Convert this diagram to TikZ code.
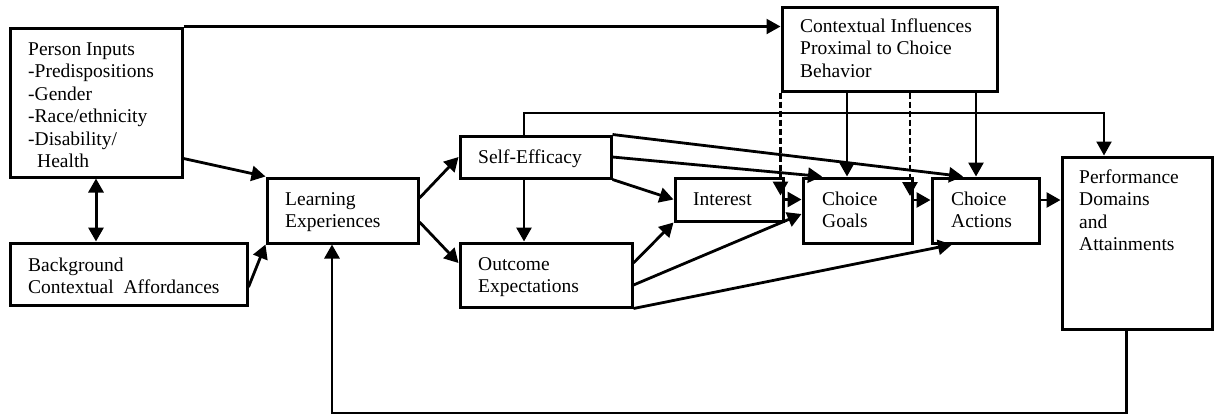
\documentclass[tikz,border=0pt]{standalone}
\usepackage{fontspec}
\setmainfont{Liberation Serif}
\usetikzlibrary{arrows.meta,fit,calc}
\begin{document}
\begin{tikzpicture}[x=1pt,y=-1pt,
  box/.style={draw,line width=3pt,inner sep=0pt,rectangle},
  txt/.style={anchor=north west,inner sep=0pt,align=left,font=\fontsize{19.5}{22.5}\selectfont},
  conn/.style={line width=2.8pt,-{Triangle[length=14pt,width=15pt]}},
  thin conn/.style={line width=2.2pt,-{Triangle[length=14pt,width=15pt]}},
  dconn/.style={line width=2.8pt,dash pattern=on 6pt off 3pt,-{Triangle[length=14pt,width=15pt]}},
  biconn/.style={line width=3pt,{Triangle[length=14pt,width=15pt]}-{Triangle[length=14pt,width=15pt]}}]
\useasboundingbox (0,0) rectangle (1217,416);
% boxes
\node[box,fit={(10,28) (182,177)}] (person) {};
\node[box,fit={(10,243) (247,305)}] (bg) {};
\node[box,fit={(267,178) (418,243)}] (learn) {};
\node[box,fit={(460,136) (611,178)}] (se) {};
\node[box,fit={(460,243) (632,307)}] (oe) {};
\node[box,fit={(675,178) (783,221)}] (int) {};
\node[box,fit={(803,178) (912,243)}] (cg) {};
\node[box,fit={(932,178) (1039,243)}] (ca) {};
\node[box,fit={(782,7) (997,91)}] (ctx) {};
\node[box,fit={(1062,157) (1212,329)}] (perf) {};
% texts
\newcommand{\fl}{\rule{0pt}{14pt}}
\node[txt] (tperson) at (28,41) {\fl Person Inputs\\-Predispositions\\-Gender\\-Race/ethnicity\\-Disability/\\\hspace*{9pt}Health};
\node[txt] (tbg) at (28,257) {\fl Background\\Contextual\ \ Affordances};
\node[txt] (tlearn) at (285,191) {\fl Learning\\Experiences};
\node[txt] (tse) at (478,149) {\fl Self-Efficacy};
\node[txt] (toe) at (478,256) {\fl Outcome\\Expectations};
\node[txt] (tint) at (693,191) {\fl Interest};
\node[txt] (tcg) at (822,191) {\fl Choice\\Goals};
\node[txt] (tca) at (951,191) {\fl Choice\\Actions};
\node[txt] (tctx) at (800,18) {\fl Contextual Influences\\Proximal to Choice\\Behavior};
\node[txt] (tperf) at (1079,169) {\fl Performance\\Domains\\and\\Attainments};
% coordinates
\coordinate (fbtop) at (1104,113);
\coordinate (fbbot) at (332,413);
% connectors
\draw[thin conn] (person.north east) -- (person.north east -| ctx.west);
\draw[conn] ([yshift=20pt]person.south east) -- (learn.north west);
\draw[biconn] (person.south) -- (person.south |- bg.north);
\draw[conn] ([yshift=-13pt]bg.east) -- (learn.south west);
\draw[conn] ([yshift=12.5pt]learn.east) -- (se.west);
\draw[conn] ([yshift=-11.5pt]learn.east) -- ([yshift=12pt]oe.west);
\draw[conn] ([xshift=-11.5pt]se.south) -- ([xshift=-11.5pt]se.south |- oe.north);
\draw[thin conn] ([xshift=-11.5pt]se.north) |- (fbtop) -- (fbtop |- perf.north);
\draw[conn] (se.north east) -- ([xshift=-22.5pt]ca.north);
\draw[conn] (se.east) -- ([xshift=-35.5pt]cg.north);
\draw[conn] (se.south east) -- (int.west);
\draw[conn] ([yshift=12pt]oe.east) -- (int.south west);
\draw[conn] ([yshift=-10pt]oe.east) -- ([yshift=-3.5pt]cg.west);
\draw[conn] (oe.south east) -- ([xshift=-33.5pt]ca.south);
\draw[conn] (int.east) -- (int.east -| cg.west);
\draw[conn] ([yshift=10.5pt]cg.east) -- ([yshift=10.5pt]ca.west);
\draw[conn] ([yshift=10.5pt]ca.east) -- ([yshift=10.5pt]ca.east -| perf.west);
\draw[conn] ([xshift=-42.5pt]ctx.south) -- ([xshift=-42.5pt]ctx.south |- cg.north);
\draw[conn] ([xshift=86.5pt]ctx.south) -- ([xshift=86.5pt]ctx.south |- ca.north);
\draw[dconn] (ctx.south west) -- ([yshift=4pt]ctx.south west |- int.east);
\draw[dconn] ([xshift=20.5pt]ctx.south) -- ([xshift=20.5pt,yshift=14.5pt]ctx.south |- cg.east);
\draw[conn] ([xshift=-10.5pt]perf.south) |- (fbbot) -- (fbbot |- learn.south);
\end{tikzpicture}
\end{document}
